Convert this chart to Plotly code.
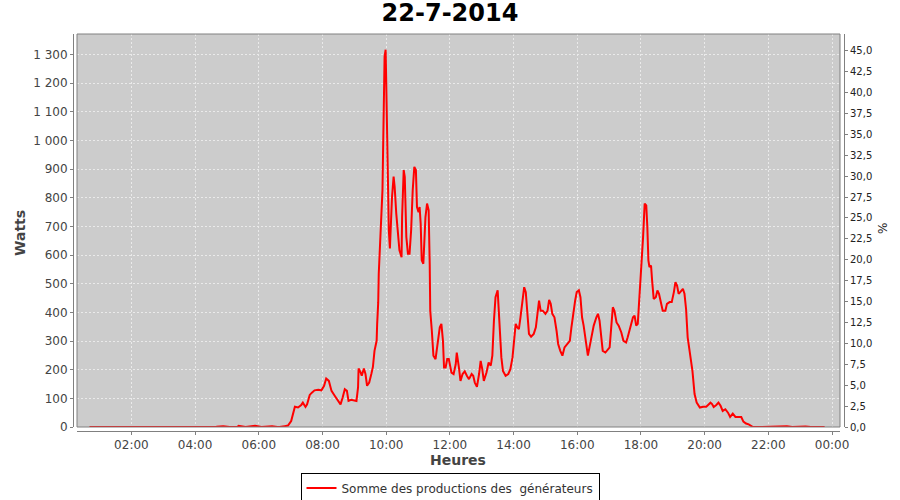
import plotly.graph_objects as go

DAY = "2014-07-22"

times = [
    "00:41", "00:55", "01:10", "01:28", "01:40", "02:00", "02:20", "02:40", "03:00", "03:20",
    "03:40", "04:00", "04:20", "04:40", "04:53", "05:05", "05:20", "05:22", "05:35", "05:50",
    "05:53", "06:05", "06:20", "06:25", "06:35", "06:39", "06:49", "06:55", "07:01", "07:08",
    "07:14", "07:20", "07:23", "07:28", "07:31", "07:36", "07:40", "07:45", "07:52", "07:58",
    "08:03", "08:07", "08:12", "08:17", "08:23", "08:29", "08:34", "08:38", "08:42", "08:46",
    "08:49", "08:54", "09:04", "09:07", "09:08", "09:12", "09:14", "09:18", "09:21", "09:24",
    "09:28", "09:32", "09:35", "09:38", "09:42", "09:43", "09:45", "09:46", "09:48", "09:49",
    "09:51", "09:53", "09:54", "09:55", "09:57", "09:59", "10:00", "10:01", "10:03", "10:05",
    "10:07", "10:08", "10:11", "10:14", "10:16", "10:19", "10:22", "10:25", "10:29", "10:30",
    "10:33", "10:35", "10:38", "10:41", "10:44", "10:47", "10:50", "10:53", "10:56", "10:58",
    "11:01", "11:03", "11:05", "11:07", "11:10", "11:12", "11:14", "11:17", "11:20", "11:22",
    "11:23", "11:26", "11:29", "11:33", "11:37", "11:41", "11:44", "11:47", "11:49", "11:52",
    "11:55", "11:58", "12:03", "12:07", "12:11", "12:13", "12:17", "12:20", "12:24", "12:28",
    "12:32", "12:36", "12:41", "12:44", "12:47", "12:51", "12:55", "12:58", "13:01", "13:04",
    "13:09", "13:13", "13:17", "13:20", "13:23", "13:26", "13:30", "13:32", "13:34", "13:37",
    "13:40", "13:45", "13:50", "13:54", "13:58", "14:01", "14:04", "14:07", "14:10", "14:13",
    "14:17", "14:20", "14:23", "14:26", "14:29", "14:33", "14:38", "14:42", "14:45", "14:48",
    "14:51", "14:55", "15:00", "15:04", "15:07", "15:10", "15:13", "15:17", "15:21", "15:24",
    "15:28", "15:32", "15:36", "15:42", "15:46", "15:49", "15:52", "15:56", "15:59", "16:03",
    "16:06", "16:09", "16:12", "16:16", "16:20", "16:23", "16:28", "16:31", "16:36", "16:39",
    "16:42", "16:45", "16:48", "16:53", "16:58", "17:01", "17:04", "17:07", "17:10", "17:14",
    "17:18", "17:23", "17:27", "17:32", "17:35", "17:39", "17:42", "17:45", "17:48", "17:51",
    "17:54", "17:57", "18:01", "18:04", "18:07", "18:10", "18:12", "18:14", "18:16", "18:19",
    "18:21", "18:24", "18:28", "18:31", "18:34", "18:37", "18:41", "18:46", "18:49", "18:54",
    "18:58", "19:02", "19:05", "19:08", "19:11", "19:14", "19:19", "19:22", "19:25", "19:28",
    "19:33", "19:37", "19:41", "19:45", "19:51", "19:57", "20:03", "20:08", "20:11", "20:14",
    "20:17", "20:22", "20:26", "20:30", "20:34", "20:39", "20:44", "20:48", "20:53", "20:58",
    "21:03", "21:09", "21:13", "21:18", "21:23", "21:28", "21:31", "21:45", "22:00", "22:15",
    "22:30", "22:35", "22:45", "23:00", "23:10", "23:20", "23:35", "23:46",
]

watts = [
    0, 0, 1, 2, 0, 1, 0, 0, 0, 0,
    0, 0, 0, 1, 3, 0, 1, 4, 0, 2,
    4, 0, 1, 3, 0, 0, 3, 5, 21, 71,
    68, 77, 85, 70, 79, 112, 120, 128, 130, 128,
    144, 169, 161, 126, 109, 94, 79, 103, 132, 126,
    91, 95, 91, 138, 204, 190, 179, 204, 185, 144,
    155, 185, 210, 266, 301, 360, 435, 535, 617, 687,
    757, 827, 944, 1096, 1294, 1317, 1212, 979, 803, 687,
    623, 687, 803, 874, 838, 745, 687, 617, 593, 733,
    897, 873, 663, 605, 605, 687, 827, 908, 897, 768,
    750, 768, 710, 582, 570, 640, 733, 780, 757, 570,
    406, 336, 249, 237, 290, 348, 360, 301, 208, 208,
    237, 237, 190, 185, 219, 260, 208, 161, 185, 194,
    179, 167, 185, 179, 155, 140, 185, 231, 202, 161,
    190, 225, 214, 249, 371, 453, 477, 418, 325, 243,
    196, 179, 185, 202, 243, 301, 360, 348, 342, 383,
    441, 488, 471, 406, 325, 315, 325, 348, 406, 441,
    406, 406, 395, 406, 444, 430, 395, 383, 336, 290,
    266, 249, 278, 290, 301, 348, 395, 441, 471, 477,
    453, 383, 354, 307, 249, 278, 325, 354, 383, 395,
    371, 313, 266, 260, 272, 278, 348, 418, 406, 365,
    354, 330, 301, 295, 313, 342, 371, 383, 389, 354,
    360, 441, 582, 663, 780, 774, 698, 582, 558, 564,
    512, 447, 453, 477, 465, 436, 406, 406, 430, 436,
    436, 471, 506, 494, 465, 471, 482, 465, 412, 313,
    255, 196, 115, 85, 68, 71, 71, 80, 85, 80,
    70, 77, 85, 74, 56, 62, 50, 35, 47, 35,
    35, 35, 19, 12, 9, 2, 0, 0, 1, 0,
    1, 3, 0, 1, 2, 0, 1, 0,
]

left_tick_vals = [0, 100, 200, 300, 400, 500, 600, 700, 800, 900, 1000, 1100, 1200, 1300]
left_tick_text = ["0", "100", "200", "300", "400", "500", "600", "700", "800", "900",
                  "1 000", "1 100", "1 200", "1 300"]
right_tick_vals = [0, 2.5, 5, 7.5, 10, 12.5, 15, 17.5, 20, 22.5, 25, 27.5, 30, 32.5,
                   35, 37.5, 40, 42.5, 45]
right_tick_text = ["0,0", "2,5", "5,0", "7,5", "10,0", "12,5", "15,0", "17,5", "20,0",
                   "22,5", "25,0", "27,5", "30,0", "32,5", "35,0", "37,5", "40,0",
                   "42,5", "45,0"]

series_name = "Somme des productions des  générateurs"
title_text = "22-7-2014"

x_dt = [f"{DAY} {t}:00" for t in times]

W, H = 900, 500
L, R, T, B = 77, 840, 34, 427
xd = [L / W, R / W]
yd = [(H - B) / H, (H - T) / H]

FONT = "DejaVu Sans"
AX = "#808080"
TXT = "#444444"
GRID = "#eaeaea"

fig = go.Figure()
fig.add_trace(go.Scatter(
    x=x_dt, y=watts, mode="lines", name=series_name,
    line=dict(color="#ff0000", width=2),
))
fig.add_trace(go.Scatter(
    x=[x_dt[0]], y=[None], yaxis="y2", mode="lines", showlegend=False, hoverinfo="skip",
))

fig.update_layout(
    width=W, height=H,
    margin=dict(l=0, r=0, t=0, b=0, pad=0, autoexpand=False),
    paper_bgcolor="white",
    plot_bgcolor="#cccccc",
    font=dict(family=FONT, size=12, color=TXT),
    title=dict(text="<b>" + title_text + "</b>", x=0.5, xanchor="center",
               xref="container", yref="container",
               y=1 - 13 / H, yanchor="middle", automargin=False,
               font=dict(family=FONT, size=24, color="black")),
    xaxis=dict(
        domain=xd, anchor="free", position=(H - 431) / H, automargin=False,
        type="date",
        range=[f"{DAY} 00:17:30", "2014-07-23 00:15:00"],
        tick0=f"{DAY} 00:00:00", dtick=2 * 3600 * 1000,
        tickformat="%H:%M",
        showgrid=True, gridcolor=GRID, griddash="2px,2px", gridwidth=1,
        showline=True, linecolor=AX, linewidth=1,
        ticks="outside", ticklen=3, tickcolor=AX,
        tickfont=dict(family=FONT, size=12, color=TXT),
        zeroline=False,
    ),
    yaxis=dict(
        domain=yd, anchor="free", position=73 / W, automargin=False,
        range=[0, 1372],
        tickvals=left_tick_vals, ticktext=left_tick_text,
        showgrid=True, gridcolor=GRID, griddash="2px,2px", gridwidth=1,
        showline=True, linecolor=AX, linewidth=1,
        ticks="outside", ticklen=3, tickcolor=AX,
        tickfont=dict(family=FONT, size=12, color=TXT),
        zeroline=False,
    ),
    yaxis2=dict(
        domain=yd, anchor="free", position=844 / W, overlaying="y", side="right",
        automargin=False,
        range=[0, 47.0],
        tickvals=right_tick_vals, ticktext=right_tick_text,
        showgrid=False,
        showline=True, linecolor=AX, linewidth=1,
        ticks="outside", ticklen=3, tickcolor=AX,
        tickfont=dict(family=FONT, size=10, color="#222222"),
        zeroline=False,
    ),
    legend=dict(
        orientation="h", x=0.5, xanchor="center", y=(H - 488) / H, yanchor="middle",
        bordercolor="black", borderwidth=1, bgcolor="white",
        font=dict(family=FONT, size=12, color="#333333"),
        itemwidth=30,
    ),
    shapes=[dict(type="rect", xref="paper", yref="paper",
                 x0=xd[0], x1=xd[1], y0=yd[0], y1=yd[1],
                 line=dict(color=AX, width=1), fillcolor="rgba(0,0,0,0)", layer="above")],
    annotations=[
        dict(text="<b>Watts</b>", x=20 / W, y=(H - 233) / H, xref="paper", yref="paper",
             xanchor="center", yanchor="middle",
             textangle=-90, showarrow=False, font=dict(family=FONT, size=14, color=TXT)),
        dict(text="<b>Heures</b>", x=458 / W, y=(H - 460) / H, xref="paper", yref="paper",
             xanchor="center", yanchor="middle",
             showarrow=False, font=dict(family=FONT, size=14, color=TXT)),
        dict(text="%", x=883 / W, y=(H - 229) / H, xref="paper", yref="paper",
             xanchor="center", yanchor="middle",
             textangle=-90, showarrow=False, font=dict(family=FONT, size=12, color="#222222")),
    ],
)

fig.write_html(
    "out.html",
    config={"displayModeBar": False},
    post_script="document.body.style.margin='0';document.body.style.padding='0';"
                "document.documentElement.style.overflow='hidden';",
)
